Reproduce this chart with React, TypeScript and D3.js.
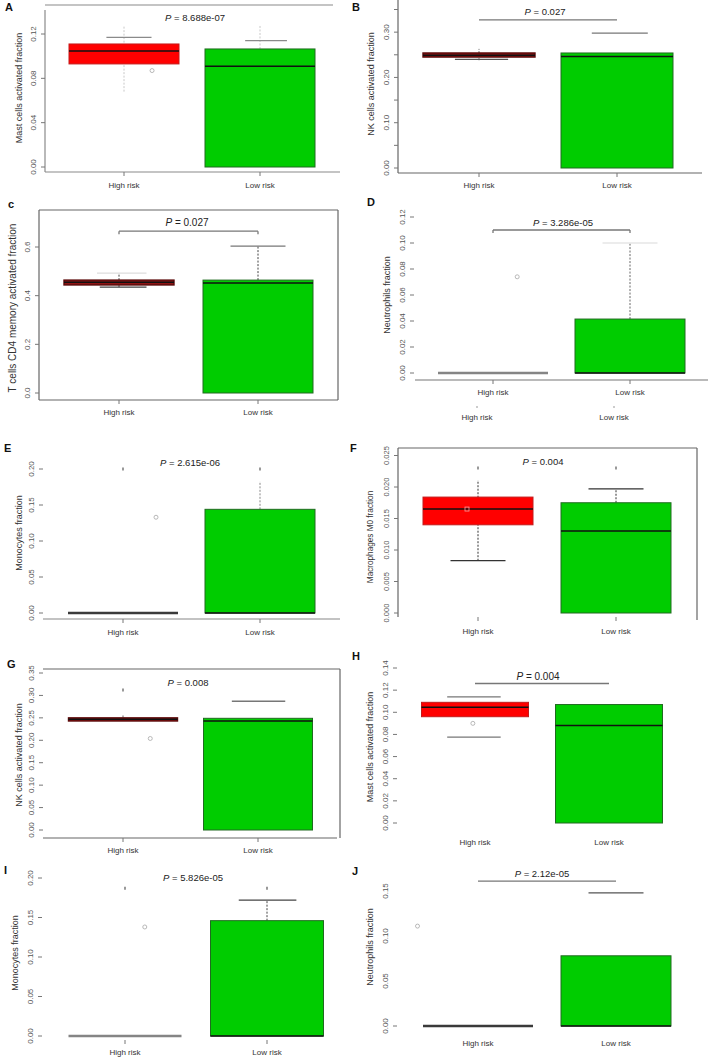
import React from 'react';
import * as d3 from 'd3';

// ---------- DATA ----------
const categories = ['High risk', 'Low risk'];
const panelLetters = ['A', 'B', 'c', 'D', 'E', 'F', 'G', 'H', 'I', 'J'];
const yTitles = [
  'Mast cells activated fraction',
  'NK cells activated fraction',
  'T cells CD4 memory activated fraction',
  'Neutrophils fraction',
  'Monocytes fraction',
  'Macrophages M0 fraction',
  'NK cells activated fraction',
  'Mast cells activated fraction',
  'Monocytes fraction',
  'Neutrophils fraction',
];
const pValues = ['8.688e-07', '0.027', '0.027', '3.286e-05', '2.615e-06', '0.004', '0.008', '0.004', '5.826e-05', '2.12e-05'];

const yTickValues = [
  [0, 0.04, 0.08, 0.12],
  [0, 0.05, 0.1, 0.15, 0.2, 0.25, 0.3, 0.35],
  [0, 0.2, 0.4, 0.6],
  [0, 0.02, 0.04, 0.06, 0.08, 0.1, 0.12],
  [0, 0.05, 0.1, 0.15, 0.2],
  [0, 0.005, 0.01, 0.015, 0.02, 0.025],
  [0, 0.05, 0.1, 0.15, 0.2, 0.25, 0.3, 0.35],
  [0, 0.02, 0.04, 0.06, 0.08, 0.1, 0.12, 0.14],
  [0, 0.05, 0.1, 0.15, 0.2],
  [0, 0.05, 0.1, 0.15],
];
const yTickLabels = [
  ['0.00', '0.04', '0.08', '0.12'],
  ['0.00', '', '0.10', '', '0.20', '', '0.30', ''],
  ['0.0', '0.2', '0.4', '0.6'],
  ['0.00', '0.02', '0.04', '0.06', '0.08', '0.10', '0.12'],
  ['0.00', '0.05', '0.10', '0.15', '0.20'],
  ['0.000', '0.005', '0.010', '0.015', '0.020', '0.025'],
  ['0.00', '0.05', '0.10', '0.15', '0.20', '0.25', '0.30', '0.35'],
  ['0.00', '0.02', '0.04', '0.06', '0.08', '0.10', '0.12', '0.14'],
  ['0.00', '0.05', '0.10', '0.15', '0.20'],
  ['0.00', '0.05', '0.10', '0.15'],
];

// box stats [q1, median, q3]
const highBox = [
  [0.093, 0.1047, 0.111],
  [0.245, 0.249, 0.254],
  [0.444, 0.455, 0.464],
  [0, 0, 0],
  [0, 0, 0],
  [0.014, 0.0165, 0.0184],
  [0.243, 0.247, 0.25],
  [0.096, 0.1045, 0.109],
  [0, 0, 0],
  [0, 0, 0],
];
const lowBox = [
  [0, 0.091, 0.1065],
  [0, 0.246, 0.254],
  [0, 0.452, 0.464],
  [0, 0, 0.0415],
  [0, 0, 0.144],
  [0, 0.013, 0.0175],
  [0, 0.243, 0.249],
  [0, 0.088, 0.107],
  [0, 0, 0.146],
  [0, 0, 0.078],
];
const highWhisker = [[0.068, 0.128], [0.238, 0.263], [0.435, 0.493], null, null, [0.0083, 0.0211], [0.243, 0.256], null, null, null];
const lowWhisker = [[0.1065, 0.128], null, [0.464, 0.604], [0.0415, 0.1], [0.144, 0.183], [0.0175, 0.0197], null, null, [0.146, 0.172], null];
const highCaps = [[0.117], [0.24], [0.435, 0.493], [], [], [0.0083], [], [0.114, 0.0775], [], []];
const lowCaps = [[0.114], [0.298], [0.604], [0.1], [], [0.0197], [0.287], [], [0.172], [0.148]];
const highOutliers = [[0.087], [], [], [0.074], [0.133], [], [0.204], [0.09], [0.138], [0.111]];
const highMarks = [[], [], [], [], [0.2], [0.023], [0.312], [], [0.187], []];
const lowMarks = [[], [], [], [], [0.2], [0.023], [], [], [0.187], []];
const highMeans = [null, null, null, null, null, 0.0165, null, null, null, null];
const bracketLevels = [null, 0.327, 0.665, 0.11, null, null, null, 0.126, null, 0.161];

// ---------- LAYOUT / STYLE ----------
type Seg = [number, number, number, number];
interface Layout {
  letter: [number, number];
  axisX: number;
  y0: number; // pixel of value 0
  yTop: number; // pixel of max tick
  cx: [number, number];
  hw: number;
  frame: Seg[];
  frameColor: string;
  xTickY: number | null;
  xLabelY: number;
  extraLabelY?: number;
  title: [number, number, number]; // cx, cy, font
  p: [number, number];
  pSize: number;
  highStyle: 'red' | 'darkred' | 'flatGray' | 'flatDark';
  whiskerColor: string;
  highCapSpan: [number, number][];
  lowCapSpan: [number, number][];
  highCapColor: string[];
  lowCapColor: string[];
  outlierDx: number[];
  bracketEnds: boolean;
  tickMode: 'all' | 'zero';
  tickFont: number;
}

const layouts: Layout[] = [
  { letter: [5, 11], axisX: 45, y0: 167, yTop: 34, cx: [124, 260], hw: 55,
    frame: [[45, 10, 45, 172], [45, 172, 340, 172], [45, 5, 333, 5]], frameColor: '#8a8a8a',
    xTickY: 172, xLabelY: 188, title: [19, 88, 9], p: [195, 21], pSize: 9.5, highStyle: 'red', whiskerColor: '#c8c8c8',
    highCapSpan: [[-0.32, 0.5]], lowCapSpan: [[-0.27, 0.49]], highCapColor: ['#8a8a8a'], lowCapColor: ['#8a8a8a'],
    outlierDx: [0.51], bracketEnds: false, tickMode: 'all', tickFont: 8 },
  { letter: [352, 11], axisX: 398, y0: 168, yTop: 9.5, cx: [479, 617], hw: 56,
    frame: [[398, 0, 398, 173], [398, 173, 702, 173]], frameColor: '#666',
    xTickY: 173, xLabelY: 188, title: [371, 84, 9], p: [545, 15], pSize: 9.5, highStyle: 'darkred', whiskerColor: '#555',
    highCapSpan: [[-0.43, 0.52]], lowCapSpan: [[-0.45, 0.55]], highCapColor: ['#555'], lowCapColor: ['#777'],
    outlierDx: [], bracketEnds: false, tickMode: 'all', tickFont: 8 },
  { letter: [8, 208], axisX: 39, y0: 393, yTop: 247, cx: [119, 258], hw: 55,
    frame: [[39, 210, 338, 210], [338, 210, 338, 400], [39, 400, 338, 400], [39, 210, 39, 400]], frameColor: '#666',
    xTickY: 400, xLabelY: 415, title: [13, 308, 10], p: [187, 226], pSize: 10, highStyle: 'darkred', whiskerColor: '#444',
    highCapSpan: [[-0.35, 0.5], [-0.4, 0.5]], lowCapSpan: [[-0.5, 0.5]], highCapColor: ['#444', '#dddddd'], lowCapColor: ['#777'],
    outlierDx: [], bracketEnds: true, tickMode: 'all', tickFont: 8 },
  { letter: [367, 206], axisX: 414, y0: 373, yTop: 217, cx: [493, 630], hw: 55,
    frame: [[415, 380, 708, 380]], frameColor: '#777',
    xTickY: 380, xLabelY: 395, extraLabelY: 420, title: [387, 295, 9], p: [563, 226], pSize: 9.5, highStyle: 'flatGray', whiskerColor: '#666',
    highCapSpan: [], lowCapSpan: [[-0.5, 0.5]], highCapColor: [], lowCapColor: ['#e6e6e6'],
    outlierDx: [0.44], bracketEnds: true, tickMode: 'all', tickFont: 8 },
  { letter: [4, 452], axisX: 43, y0: 613, yTop: 469, cx: [123, 260], hw: 55,
    frame: [[43, 619, 340, 619]], frameColor: '#888',
    xTickY: 619, xLabelY: 635, title: [19, 533, 9], p: [190, 466], pSize: 9.5, highStyle: 'flatDark', whiskerColor: '#888',
    highCapSpan: [], lowCapSpan: [], highCapColor: [], lowCapColor: [],
    outlierDx: [0.6], bracketEnds: false, tickMode: 'all', tickFont: 8 },
  { letter: [350, 452], axisX: 398, y0: 613, yTop: 455.5, cx: [478, 616], hw: 55,
    frame: [[398, 448, 697, 448], [697, 448, 697, 620], [398, 448, 398, 617]], frameColor: '#666',
    xTickY: 617, xLabelY: 634, title: [370, 537, 8.2], p: [543, 465], pSize: 9.5, highStyle: 'red', whiskerColor: '#333',
    highCapSpan: [[-0.5, 0.5]], lowCapSpan: [[-0.5, 0.5]], highCapColor: ['#333'], lowCapColor: ['#333'],
    outlierDx: [], bracketEnds: false, tickMode: 'all', tickFont: 7.5 },
  { letter: [7, 668], axisX: 43, y0: 830, yTop: 673, cx: [123, 258], hw: 54.5,
    frame: [[43, 669, 340, 669], [340, 669, 340, 838], [43, 838, 337, 838]], frameColor: '#666',
    xTickY: 838, xLabelY: 853, title: [19, 755, 9], p: [188, 686], pSize: 9.5, highStyle: 'darkred', whiskerColor: '#666',
    highCapSpan: [], lowCapSpan: [[-0.48, 0.5]], highCapColor: [], lowCapColor: ['#777'],
    outlierDx: [0.5], bracketEnds: false, tickMode: 'all', tickFont: 8 },
  { letter: [352, 660], axisX: 397, y0: 823, yTop: 668, cx: [475, 609], hw: 53.5,
    frame: [], frameColor: '#666',
    xTickY: null, xLabelY: 845, title: [370, 747, 9], p: [538, 680], pSize: 10, highStyle: 'red', whiskerColor: '#666',
    highCapSpan: [[-0.52, 0.48], [-0.52, 0.48]], lowCapSpan: [], highCapColor: ['#777', '#777'], lowCapColor: [],
    outlierDx: [-0.04], bracketEnds: false, tickMode: 'all', tickFont: 8 },
  { letter: [4, 874], axisX: 42, y0: 1036, yTop: 878, cx: [125, 267], hw: 56.5,
    frame: [], frameColor: '#666',
    xTickY: 1040, xLabelY: 1055, title: [15, 953, 9], p: [193, 881], pSize: 9.5, highStyle: 'flatGray', whiskerColor: '#444',
    highCapSpan: [], lowCapSpan: [[-0.5, 0.52]], highCapColor: [], lowCapColor: ['#444'],
    outlierDx: [0.35], bracketEnds: false, tickMode: 'all', tickFont: 8 },
  { letter: [352, 875], axisX: 397, y0: 1026, yTop: 891, cx: [478, 616], hw: 55,
    frame: [], frameColor: '#666',
    xTickY: null, xLabelY: 1046, title: [370, 947, 9], p: [542, 877], pSize: 9.5, highStyle: 'flatDark', whiskerColor: '#666',
    highCapSpan: [], lowCapSpan: [[-0.5, 0.5]], highCapColor: [], lowCapColor: ['#555'],
    outlierDx: [-1.1], bracketEnds: false, tickMode: 'zero', tickFont: 8 },
];

const FONT = "'Liberation Sans', Arial, Helvetica, sans-serif";
const RED = '#ff0000';
const DARKRED = '#8e1414';
const GREEN = '#00cc00';

function Panel({ i }: { i: number }) {
  const L = layouts[i];
  const ticks = yTickValues[i];
  const yMax = d3.max(ticks) as number;
  const y = d3.scaleLinear().domain([0, yMax]).range([L.y0, L.yTop]);
  const x = d3.scalePoint<string>().domain(categories).range(L.cx);
  const hx = x(categories[0]) as number;
  const lx = x(categories[1]) as number;
  const hw = L.hw;
  const els: React.ReactNode[] = [];

  // frame
  L.frame.forEach((s, k) =>
    els.push(<line key={`f${k}`} x1={s[0]} y1={s[1]} x2={s[2]} y2={s[3]} stroke={L.frameColor} strokeWidth={1.2} />)
  );

  // y ticks
  ticks.forEach((t, k) => {
    const yy = y(t);
    if (L.tickMode === 'all' || t === 0)
      els.push(<line key={`yt${k}`} x1={L.axisX - 4} x2={L.axisX} y1={yy} y2={yy} stroke="#777" strokeWidth={1} />);
    const lab = yTickLabels[i][k];
    if (lab)
      els.push(
        <text key={`yl${k}`} transform={`translate(${L.axisX - 9},${yy}) rotate(-90)`} textAnchor="middle"
          fontSize={L.tickFont} fill="#555" fontFamily={FONT}>{lab}</text>
      );
  });

  // y title
  els.push(
    <text key="yt" transform={`translate(${L.title[0] + 3},${L.title[1]}) rotate(-90)`} textAnchor="middle"
      fontSize={L.title[2]} fill="#333" fontFamily={FONT}>{yTitles[i]}</text>
  );

  // x ticks + labels
  categories.forEach((c, k) => {
    const cx = x(c) as number;
    if (L.xTickY !== null)
      els.push(<line key={`xt${k}`} x1={cx} x2={cx} y1={L.xTickY} y2={L.xTickY + 4} stroke="#777" strokeWidth={1} />);
    els.push(
      <text key={`xl${k}`} x={cx} y={L.xLabelY} textAnchor="middle" fontSize={8} fill="#333" fontFamily={FONT}>{c}</text>
    );
    if (L.extraLabelY) {
      els.push(<line key={`xe${k}`} x1={cx - 16} x2={cx - 16} y1={L.extraLabelY - 14} y2={L.extraLabelY - 12} stroke="#999" />);
      els.push(
        <text key={`xel${k}`} x={cx - 16} y={L.extraLabelY} textAnchor="middle" fontSize={8} fill="#333" fontFamily={FONT}>{c}</text>
      );
    }
  });

  // P value
  els.push(
    <text key="p" x={L.p[0]} y={L.p[1]} textAnchor="middle" fontSize={L.pSize} fill="#222" fontFamily={FONT}>
      <tspan fontStyle="italic">P</tspan>
      {` = ${pValues[i]}`}
    </text>
  );

  // bracket
  const bl = bracketLevels[i];
  if (bl !== null) {
    const by = y(bl);
    els.push(<line key="br" x1={hx} x2={lx} y1={by} y2={by} stroke="#777" strokeWidth={1.3} />);
    if (L.bracketEnds) {
      els.push(<line key="bra" x1={hx} x2={hx} y1={by} y2={by + 3} stroke="#777" strokeWidth={1.3} />);
      els.push(<line key="brb" x1={lx} x2={lx} y1={by} y2={by + 3} stroke="#777" strokeWidth={1.3} />);
    }
  }

  const drawGroup = (g: 'h' | 'l') => {
    const cx = g === 'h' ? hx : lx;
    const box = g === 'h' ? highBox[i] : lowBox[i];
    const wh = g === 'h' ? highWhisker[i] : lowWhisker[i];
    const caps = g === 'h' ? highCaps[i] : lowCaps[i];
    const spans = g === 'h' ? L.highCapSpan : L.lowCapSpan;
    const capColors = g === 'h' ? L.highCapColor : L.lowCapColor;
    const marks = g === 'h' ? highMarks[i] : lowMarks[i];
    if (wh)
      els.push(
        <line key={`${g}w`} x1={cx} x2={cx} y1={y(wh[0])} y2={y(wh[1])} stroke={L.whiskerColor} strokeWidth={1}
          strokeDasharray="2,1.5" />
      );
    marks.forEach((m, k) =>
      els.push(<line key={`${g}m${k}`} x1={cx} x2={cx} y1={y(m) - 1.5} y2={y(m) + 1.5} stroke="#555" strokeWidth={1.2} />)
    );
    caps.forEach((c, k) => {
      const sp = spans[k] || [-0.5, 0.5];
      els.push(
        <line key={`${g}c${k}`} x1={cx + sp[0] * hw} x2={cx + sp[1] * hw} y1={y(c)} y2={y(c)}
          stroke={capColors[k] || '#777'} strokeWidth={1.3} />
      );
    });
    const [q1, med, q3] = box;
    if (q1 === q3) {
      const flatColor = L.highStyle === 'flatGray' ? '#858585' : '#3a3a3a';
      els.push(
        <line key={`${g}flat`} x1={cx - hw} x2={cx + hw} y1={y(med)} y2={y(med)} stroke={flatColor} strokeWidth={2.4} />
      );
      return;
    }
    let fill = GREEN;
    let stroke = '#206b20';
    let sw = 1;
    if (g === 'h') {
      if (L.highStyle === 'red') { fill = RED; stroke = '#c41a1a'; sw = 1; }
      else { fill = DARKRED; stroke = '#5a0808'; sw = 1.4; }
    }
    els.push(
      <rect key={`${g}box`} x={cx - hw} width={hw * 2} y={y(q3)} height={Math.max(0.8, y(q1) - y(q3))}
        fill={fill} stroke={stroke} strokeWidth={sw} />
    );
    els.push(
      <line key={`${g}med`} x1={cx - hw} x2={cx + hw} y1={y(med)} y2={y(med)} stroke="#111" strokeWidth={1.5} />
    );
  };
  drawGroup('h');
  drawGroup('l');

  // outliers
  highOutliers[i].forEach((o, k) =>
    els.push(
      <circle key={`o${k}`} cx={hx + (L.outlierDx[k] || 0) * hw} cy={y(o)} r={2} fill="none" stroke="#b0b0b0" strokeWidth={0.9} />
    )
  );
  const mn = highMeans[i];
  if (mn !== null)
    els.push(<rect key="mean" x={hx - 13} y={y(mn) - 2} width={4} height={4} fill="none" stroke="#f0a0a0" strokeWidth={0.8} />);

  // panel letter
  els.push(
    <text key="letter" x={L.letter[0]} y={L.letter[1]} fontSize={11} fontWeight="bold" fill="#111" fontFamily={FONT}>
      {panelLetters[i]}
    </text>
  );

  return <g>{els}</g>;
}

export default function App() {
  return (
    <svg width={709} height={1058} style={{ position: 'absolute', left: 0, top: 0, background: '#fff' }}>
      <rect x={0} y={0} width={709} height={1058} fill="#fff" />
      {panelLetters.map((_, i) => (
        <Panel key={i} i={i} />
      ))}
    </svg>
  );
}
